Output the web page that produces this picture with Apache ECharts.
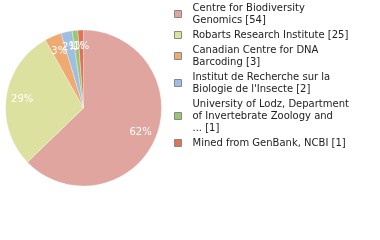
<!DOCTYPE html>
<html><head><meta charset="utf-8">
<script src="https://cdn.jsdelivr.net/npm/echarts@6/dist/echarts.min.js"></script>
<style>html,body{margin:0;padding:0;background:#fff}#c{width:380px;height:240px}</style>
</head><body><div id="c"></div>
<script>
const categories = [
  "Centre for Biodiversity\nGenomics [54]",
  "Robarts Research Institute [25]",
  "Canadian Centre for DNA\nBarcoding [3]",
  "Institut de Recherche sur la\nBiologie de l'Insecte [2]",
  "University of Lodz, Department\nof Invertebrate Zoology and\n... [1]",
  "Mined from GenBank, NCBI [1]"
];
const values = [54, 25, 3, 2, 1, 1];
const colors = ["#e0a59e", "#dde19f", "#efaa72", "#a0bee0", "#9bc671", "#df7358"];

const total = values.reduce((a, b) => a + b, 0);
const data = categories.map((n, i) => ({ name: n, value: values[i], itemStyle: { color: colors[i] } }));

const chart = echarts.init(document.getElementById('c'), null, { renderer: 'canvas' });
chart.setOption({
  animation: false,
  legend: {
    orient: 'vertical',
    left: 174,
    top: 2,
    padding: 0,
    itemWidth: 7,
    itemHeight: 7,
    itemGap: 3,
    icon: 'rect',
    itemStyle: { borderColor: '#888', borderWidth: 1 },
    textStyle: { fontFamily: 'DejaVu Sans', fontSize: 10, color: '#222', lineHeight: 12, padding: [0, 0, 0, 6] },
    data: categories,
    selectedMode: false
  },
  series: [
    {
      type: 'pie',
      center: [83.5, 108],
      radius: [0, 78],
      startAngle: 90,
      clockwise: true,
      silent: true,
      label: { show: false },
      labelLine: { show: false },
      itemStyle: { borderColor: '#fff', borderWidth: 0.3 },
      data: data
    },
    {
      type: 'pie',
      center: [83.5, 108],
      radius: [40, 78],
      startAngle: 90,
      clockwise: true,
      silent: true,
      legendHoverLink: false,
      avoidLabelOverlap: false,
      labelLayout: { hideOverlap: false },
      itemStyle: { color: 'rgba(0,0,0,0)' },
      label: {
        show: true,
        position: 'inside',
        color: '#fff',
        fontFamily: 'DejaVu Sans',
        fontSize: 10,
        formatter: p => Math.floor(p.value / total * 100) + '%'
      },
      labelLine: { show: false },
      data: categories.map((n, i) => ({ name: n + ' ', value: values[i] }))
    }
  ]
});
</script></body></html>
